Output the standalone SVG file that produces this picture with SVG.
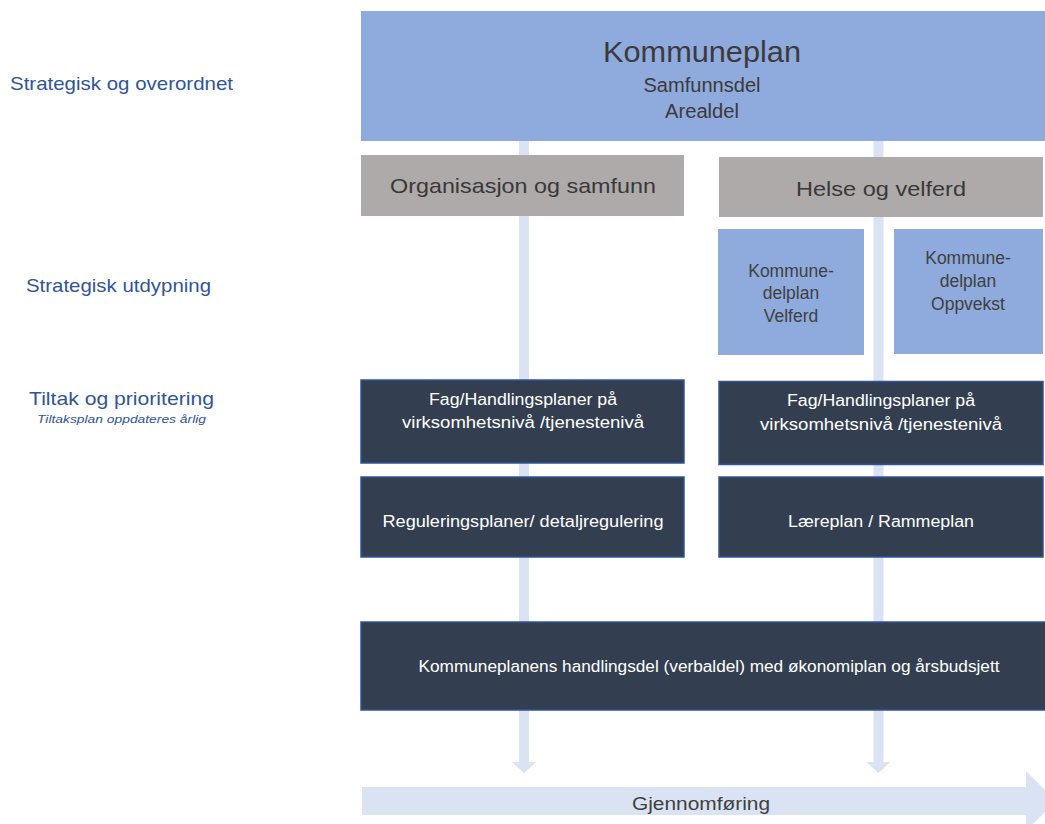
<svg xmlns="http://www.w3.org/2000/svg" width="1045" height="824" viewBox="0 0 1045 824">
<style>
text{font-family:"Liberation Sans",Arial,sans-serif;text-anchor:middle}
.lbl{fill:#2f5597;text-anchor:start}
.top{fill:#8faadc}
.gray{fill:#aeaaaa}
.grayt{fill:#3a3838;font-size:21px}
.lb{fill:#8faadc}
.lbt{fill:#404040;font-size:17.5px}
.dark{fill:#333f50;stroke:#2f5597;stroke-width:1.5}
.dt{fill:#ffffff;font-size:16px}
.flow{fill:#dae3f3}
</style>
<rect width="1045" height="824" fill="#ffffff"/>
<g id="connectors">
<rect class="flow" x="519" y="141" width="10" height="622"/>
<polygon class="flow" points="512,762 536,762 524,773"/>
<rect class="flow" x="873.5" y="141" width="10" height="622"/>
<polygon class="flow" points="866.5,762 890.5,762 878.5,773"/>
<polygon id="gjennomforing-arrow" class="flow" points="362,787 1026,787 1026,771 1056,801 1026,831 1026,815 362,815"/>
</g>
<g id="labels">
<text class="lbl" x="10" y="90" font-size="19" textLength="223" lengthAdjust="spacingAndGlyphs">Strategisk og overordnet</text>
<text class="lbl" x="26" y="292" font-size="19" textLength="185" lengthAdjust="spacingAndGlyphs">Strategisk utdypning</text>
<text class="lbl" x="29" y="405" font-size="19" textLength="185" lengthAdjust="spacingAndGlyphs">Tiltak og prioritering</text>
<text class="lbl" x="37" y="423" font-size="11.5" font-style="italic" textLength="169" lengthAdjust="spacingAndGlyphs">Tiltaksplan oppdateres årlig</text>
</g>
<g id="kommuneplan">
<rect class="top" x="361" y="11" width="684" height="130"/>
<text x="702" y="62" font-size="29" fill="#3b3b3b" textLength="198" lengthAdjust="spacingAndGlyphs">Kommuneplan</text>
<text x="702" y="92" font-size="20" fill="#3b3b3b" textLength="117" lengthAdjust="spacingAndGlyphs">Samfunnsdel</text>
<text x="702" y="118" font-size="20" fill="#3b3b3b" textLength="74" lengthAdjust="spacingAndGlyphs">Arealdel</text>
</g>
<g id="organisasjon">
<rect class="gray" x="361" y="155" width="323" height="61"/>
<text class="grayt" x="523" y="193" textLength="266" lengthAdjust="spacingAndGlyphs">Organisasjon og samfunn</text>
</g>
<g id="helse">
<rect class="gray" x="719" y="157" width="324" height="60"/>
<text class="grayt" x="881" y="196" textLength="170" lengthAdjust="spacingAndGlyphs">Helse og velferd</text>
</g>
<g id="delplan-velferd">
<rect class="lb" x="718" y="229" width="146" height="126"/>
<text class="lbt" x="791" y="277">Kommune-</text>
<text class="lbt" x="791" y="299">delplan</text>
<text class="lbt" x="791" y="322">Velferd</text>
</g>
<g id="delplan-oppvekst">
<rect class="lb" x="894" y="229" width="149" height="125"/>
<text class="lbt" x="968" y="264">Kommune-</text>
<text class="lbt" x="968" y="287">delplan</text>
<text class="lbt" x="968" y="310">Oppvekst</text>
</g>
<g id="fag-venstre">
<rect class="dark" x="361" y="380" width="323" height="83"/>
<text class="dt" x="523" y="405" textLength="188" lengthAdjust="spacingAndGlyphs">Fag/Handlingsplaner på</text>
<text class="dt" x="523" y="428" textLength="242" lengthAdjust="spacingAndGlyphs">virksomhetsnivå /tjenestenivå</text>
</g>
<g id="fag-hoyre">
<rect class="dark" x="719" y="381.5" width="324" height="83"/>
<text class="dt" x="881" y="406" textLength="188" lengthAdjust="spacingAndGlyphs">Fag/Handlingsplaner på</text>
<text class="dt" x="881" y="430" textLength="242" lengthAdjust="spacingAndGlyphs">virksomhetsnivå /tjenestenivå</text>
</g>
<g id="regulering">
<rect class="dark" x="361" y="477" width="323" height="80"/>
<text class="dt" x="523" y="527" textLength="281" lengthAdjust="spacingAndGlyphs">Reguleringsplaner/ detaljregulering</text>
</g>
<g id="laereplan">
<rect class="dark" x="719" y="477" width="324" height="80"/>
<text class="dt" x="881" y="527" textLength="186" lengthAdjust="spacingAndGlyphs">Læreplan / Rammeplan</text>
</g>
<g id="handlingsdel">
<rect class="dark" x="361" y="622" width="690" height="88"/>
<text class="dt" x="709" y="672" textLength="581" lengthAdjust="spacingAndGlyphs">Kommuneplanens handlingsdel (verbaldel) med økonomiplan og årsbudsjett</text>
</g>
<g id="gjennomforing">
<text x="701" y="810" font-size="18" fill="#404040" textLength="138" lengthAdjust="spacingAndGlyphs">Gjennomføring</text>
</g>
</svg>
